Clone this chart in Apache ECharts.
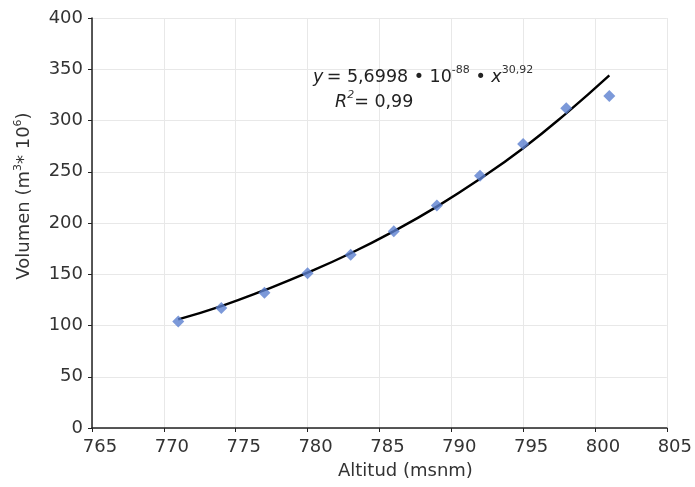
<!DOCTYPE html>
<html><head><meta charset="utf-8">
<script src="https://cdn.jsdelivr.net/npm/echarts@6/dist/echarts.min.js"></script>
<style>html,body{margin:0;padding:0;background:#fff}#c{width:695px;height:487px}</style>
</head><body><div id="c"></div>
<script>
const altitud = [771, 774, 777, 780, 783, 786, 789, 792, 795, 798, 801];
const volumen = [104, 117, 132, 151, 169, 192, 217, 246, 277, 312, 324];
const trendX = [771, 774, 777, 780, 783, 786, 789, 792, 795, 798, 801];
const trendY = [106, 119, 134.5, 151.5, 170.5, 192, 216, 243, 273, 307, 344];
const xTicks = [765, 770, 775, 780, 785, 790, 795, 800, 805];
const yTicks = [0, 50, 100, 150, 200, 250, 300, 350, 400];

const font = '"DejaVu Sans", sans-serif';
const chart = echarts.init(document.getElementById('c'));
chart.setOption({
  animation: false,
  backgroundColor: '#fff',
  grid: { left: 92, right: 27, top: 18, bottom: 59 },
  xAxis: {
    type: 'value', min: xTicks[0], max: xTicks[xTicks.length-1], interval: 5,
    name: 'Altitud (msnm)', nameLocation: 'middle', nameGap: 34,
    nameTextStyle: { fontFamily: font, fontSize: 18, color: '#333', padding: [0, 0, 0, 52] },
    axisLine: { show: true, onZero: false, lineStyle: { color: '#222', width: 1.5 } },
    axisTick: { show: true, length: 4, lineStyle: { color: '#222' } },
    axisLabel: { fontFamily: font, fontSize: 18, color: '#333', margin: 10, padding: [0, 0, 0, 16] },
    splitLine: { show: true, lineStyle: { color: '#e8e8e8' } }
  },
  yAxis: {
    type: 'value', min: yTicks[0], max: yTicks[yTicks.length-1], interval: 50,
    name: '{a|Volumen (m}{s|3}{a|* 10}{s|6}{a|)}', nameLocation: 'middle', nameGap: 57,
    nameTextStyle: { padding: [0, 0, 0, 54], rich: {
      a: { fontFamily: font, fontSize: 18, color: '#333' },
      s: { fontFamily: font, fontSize: 11, color: '#333', verticalAlign: 'top', lineHeight: 22 }
    } },
    axisLine: { show: true, onZero: false, lineStyle: { color: '#222', width: 1.5 } },
    axisTick: { show: true, length: 4, lineStyle: { color: '#222' } },
    axisLabel: { fontFamily: font, fontSize: 18, color: '#333', margin: 9, padding: [0, 0, 6, 0] },
    splitLine: { show: true, lineStyle: { color: '#e8e8e8' } }
  },
  series: [
    {
      type: 'line', data: trendX.map((x, i) => [x, trendY[i]]), smooth: true,
      showSymbol: false, symbol: 'none',
      lineStyle: { color: '#000', width: 2.4 }, z: 2
    },
    {
      type: 'scatter', data: altitud.map((x, i) => [x, volumen[i]]),
      symbol: 'diamond', symbolSize: 12,
      itemStyle: { color: '#5b7fcf' }, z: 3
    }
  ],
  graphic: [
    {
      type: 'text', left: 313, top: 65, z: 100,
      style: {
        text: '{i|y} {a|= 5,6998 • 10}{s|-88}{a| • }{i|x}{s|30,92}',
        rich: {
          a: { fontFamily: font, fontSize: 17.5, fill: '#222', lineHeight: 24 },
          i: { fontFamily: font, fontSize: 17.5, fontStyle: 'italic', fill: '#222', lineHeight: 24 },
          s: { fontFamily: font, fontSize: 11, fill: '#333', verticalAlign: 'top', lineHeight: 22 }
        }
      }
    },
    {
      type: 'text', left: 335, top: 90, z: 100,
      style: {
        text: '{i|R}{s|2}{a|= 0,99}',
        rich: {
          a: { fontFamily: font, fontSize: 17.5, fill: '#222', lineHeight: 24 },
          i: { fontFamily: font, fontSize: 17.5, fontStyle: 'italic', fill: '#222', lineHeight: 24 },
          s: { fontFamily: font, fontSize: 11, fontStyle: 'italic', fill: '#333', verticalAlign: 'top', lineHeight: 22 }
        }
      }
    }
  ]
});
</script></body></html>
